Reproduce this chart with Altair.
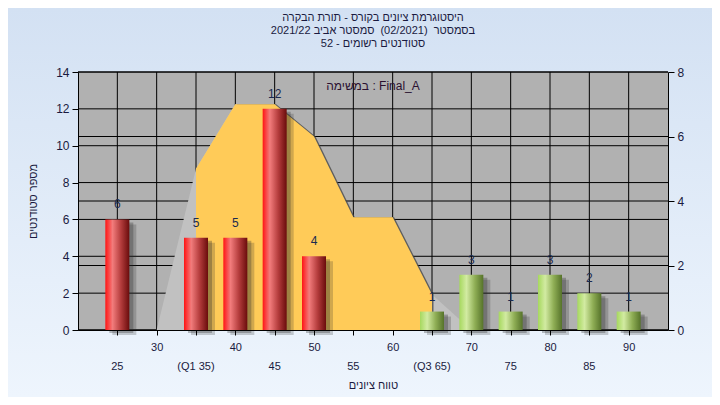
import altair as alt
import pandas as pd

# ---------------- data ----------------
bin_x = [25, 30, 35, 40, 45, 50, 55, 60, 65, 70, 75, 80, 85, 90]
counts = [6, 0, 5, 5, 12, 4, 0, 0, 1, 3, 1, 3, 2, 1]
bar_group = ["red", "red", "red", "red", "red", "red", "green",
             "green", "green", "green", "green", "green", "green", "green"]

curve_x = [25, 30, 35, 40, 45, 50, 55, 60, 65, 70]
curve_y = [0, 0, 5, 7, 7, 6, 3.5, 3.5, 1.1, 0]
q1, q3 = 35, 65

x_ticks = [25, 30, 35, 40, 45, 50, 55, 60, 65, 70, 75, 80, 85, 90]
row2_x = [25, 35, 45, 55, 65, 75, 85]
row2_labels = ["25", "(Q1 35)", "45", "55", "(Q3 65)", "75", "85"]
left_ticks = [0, 2, 4, 6, 8, 10, 12, 14]
right_ticks = [0, 2, 4, 6, 8]

NBSP = "\u00a0"
title_lines = [
    "היסטוגרמת ציונים בקורס - תורת הבקרה",
    "בסמסטר " + NBSP + "(02/2021)" + NBSP + " סמסטר אביב 2021/22",
    "סטודנטים רשומים - 52",
]
x_title = "טווח ציונים"
y_title = "מספר סטודנטים"
note = "במשימה : Final_A"

FONT = "Liberation Sans"
TXT = "#1a1a40"
W, H = 590, 258
PAD = {"left": 70, "top": 64, "right": 44, "bottom": 67}

bars_df = pd.DataFrame({"x": bin_x, "count": counts, "group": bar_group})
curve_df = pd.DataFrame({"cx": curve_x, "cy": curve_y})
one = alt.Data(values=[{"k": 1}])

xs = alt.Scale(domain=[20, 95], nice=False, zero=False, padding=0)
yl = alt.Scale(domain=[0, 14], nice=False, padding=0)
yr = alt.Scale(domain=[0, 8], nice=False, padding=0)

x_axis = alt.Axis(
    values=x_ticks, orient="bottom",
    labelExpr="datum.value % 10 == 0 ? datum.label : ''",
    tickSize=5, tickColor="black", domainColor="black", grid=False, zindex=2,
    labelFontSize=11, labelPadding=6, labelColor=TXT, labelFont=FONT,
    labelFlush=False, labelOverlap=False,
    title=x_title, titleFontSize=11, titleFontWeight="normal", titleFont=FONT,
    titleColor=TXT, titlePadding=27,
)
left_axis = alt.Axis(
    values=left_ticks, orient="left", tickSize=6, tickColor="black",
    domainColor="black", grid=False, zindex=2, labelFontSize=12, labelPadding=3,
    labelColor=TXT, labelFont=FONT, title=y_title, titleFontSize=11,
    titleFontWeight="normal", titleFont=FONT, titleColor=TXT, titlePadding=17,
)
right_axis = alt.Axis(
    values=right_ticks, orient="right", tickSize=6, tickColor="black",
    domainColor="black", grid=False, zindex=2, labelFontSize=12, labelPadding=3,
    labelColor=TXT, labelFont=FONT, title=None,
)


def X(field):
    return alt.X(field, scale=xs, axis=x_axis)


# ---------------- background ----------------
bg = alt.Chart(one).mark_rect(
    color=alt.Gradient(
        gradient="linear", x1=0, x2=0, y1=0, y2=1,
        stops=[alt.GradientStop(color="#D3E1F3", offset=0),
               alt.GradientStop(color="#EEF5FD", offset=1)],
    )
).encode(x=alt.value(-PAD["left"]), x2=alt.value(W + PAD["right"]),
         y=alt.value(-PAD["top"]), y2=alt.value(H + PAD["bottom"]))

plotbg = alt.Chart(one).mark_rect(color="#B1B1B1").encode(
    x=alt.value(0), x2=alt.value(W), y=alt.value(0), y2=alt.value(H))

vgrid = alt.Chart(pd.DataFrame({"x": x_ticks})).mark_rule(
    color="black", strokeWidth=1).encode(x=X("x:Q"))
hgrid_left = alt.Chart(pd.DataFrame({"y": left_ticks})).mark_rule(
    color="black", strokeWidth=1).encode(y=alt.Y("y:Q", scale=yl, axis=left_axis))

g1 = alt.layer(bg, plotbg, vgrid, hgrid_left)

# ---------------- right scale: curve ----------------
hgrid_right = alt.Chart(pd.DataFrame({"y": right_ticks})).mark_rule(
    color="black", strokeWidth=1).encode(y=alt.Y("y:Q", scale=yr, axis=right_axis))

area_gray = alt.Chart(curve_df).mark_area(color="#C1C1C1").encode(
    x=X("cx:Q"), y=alt.Y("cy:Q", scale=yr, axis=right_axis))
yel_base = alt.Chart(curve_df).transform_filter(
    f"datum.cx >= {q1} && datum.cx <= {q3}")
area_shadow = yel_base.mark_area(color="#4a4a4a", opacity=0.8,
                                 xOffset=1.5, x2Offset=1.5).encode(
    x=X("cx:Q"), y=alt.Y("cy:Q", scale=yr, axis=right_axis))
area_yel = yel_base.mark_area(color="#FFCB58").encode(
    x=X("cx:Q"), y=alt.Y("cy:Q", scale=yr, axis=right_axis))

g2 = alt.layer(hgrid_right, area_gray, area_shadow, area_yel)

# ---------------- bars ----------------
red_grad = alt.Gradient(
    gradient="linear", x1=0, x2=1, y1=0, y2=0,
    stops=[alt.GradientStop(color="#FF1414", offset=0),
           alt.GradientStop(color="#F27C7C", offset=0.3),
           alt.GradientStop(color="#B43C3C", offset=0.65),
           alt.GradientStop(color="#6A0C0C", offset=1)])
green_grad = alt.Gradient(
    gradient="linear", x1=0, x2=1, y1=0, y2=0,
    stops=[alt.GradientStop(color="#A6D85E", offset=0),
           alt.GradientStop(color="#D2EBA2", offset=0.3),
           alt.GradientStop(color="#8FAE55", offset=0.65),
           alt.GradientStop(color="#56732A", offset=1)])

base = alt.Chart(bars_df).transform_filter("datum.count > 0")
enc = dict(x=X("x:Q"), y=alt.Y("count:Q", scale=yl, axis=None))

shadow1 = base.mark_bar(size=24, color="#2a2a2a", opacity=0.22,
                        xOffset=7, yOffset=5, y2Offset=5).encode(**enc)
shadow2 = base.mark_bar(size=24, color="#2a2a2a", opacity=0.3,
                        xOffset=4, yOffset=3, y2Offset=3).encode(**enc)
bars_red = base.transform_filter("datum.group == 'red'").mark_bar(
    size=24, color=red_grad).encode(**enc)
bars_green = base.transform_filter("datum.group == 'green'").mark_bar(
    size=24, color=green_grad).encode(**enc)
labels = base.mark_text(dy=-8, baseline="bottom", fontSize=12, font=FONT,
                        color="#1a2a50").encode(text="count:Q", **enc)

row2 = alt.Chart(pd.DataFrame({"x": row2_x, "lab": row2_labels})).mark_text(
    fontSize=11, font=FONT, color=TXT, baseline="middle"
).encode(x=X("x:Q"), y=alt.value(H + 37), text="lab:N")

annot = alt.Chart(one).mark_text(
    fontSize=12, font=FONT, color="#2a1030", baseline="middle"
).encode(x=alt.value(W / 2), y=alt.value(14), text=alt.value(note))

g3 = alt.layer(shadow1, shadow2, bars_red, bars_green, labels, row2, annot)

chart = alt.layer(g1, g2, g3).resolve_scale(y="independent").properties(
    width=W, height=H,
    autosize=alt.AutoSizeParams(type="none"),
    padding=PAD,
    title=alt.TitleParams(
        text=title_lines, fontSize=11, fontWeight="normal", font=FONT,
        color=TXT, anchor="middle", offset=-41, lineHeight=13, zindex=3),
).configure_view(stroke=None)

chart.save("out.html", embed_options={"renderer": "svg", "actions": False})
